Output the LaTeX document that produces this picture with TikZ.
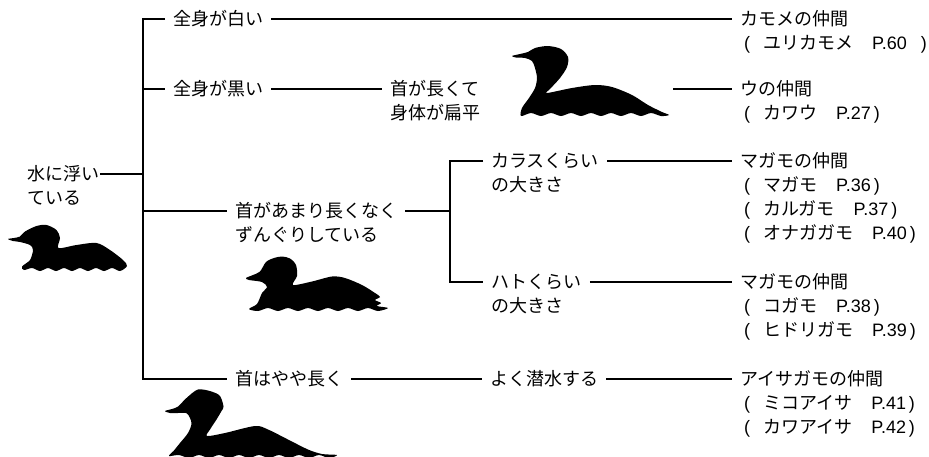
\documentclass[tikz,border=0pt]{standalone}
\usepackage{fontspec}
\setmainfont{Noto Sans CJK JP}
\newfontfamily\lat{Liberation Sans}
% "( name   P.nn )" reference line
\newcommand\bookref[3][3pt]{{\lat(}\hspace{13pt}#2\hspace{19pt}{\lat P.#3}\hspace{#1}{\lat)}}
\tikzset{
  lbl/.style={inner xsep=8pt, inner ysep=0pt, anchor=west, text height=13pt, text depth=0pt,
              font=\fontsize{18}{24}\selectfont},
  refline/.style={lbl, inner xsep=0pt},
  link/.style={line width=1.7pt},
  bird/.style={fill=black, draw=none}
}
\begin{document}
\begin{tikzpicture}[x=1pt,y=-1pt]
\useasboundingbox (0,0) rectangle (929,456);

% ---- root ----
\node[lbl, inner xsep=1pt] (root1) at (26,174) {水に浮い};
\node[lbl, inner xsep=1pt] (root2) at (26,198) {ている};
\coordinate (broot) at (143,174);
\coordinate (b2) at (143,89);
\coordinate (b3) at (143,211);
\coordinate (b4) at (143,379);

% ---- first level ----
\node[lbl] (white)   at (165,19)  {全身が白い};
\node[lbl] (black)   at (165,89)  {全身が黒い};
\node[lbl] (neck1)   at (382,89)  {首が長くて};
\node[lbl] (neck2)   at (382,113) {身体が扁平};
\node[lbl] (stubby1) at (227,211) {首があまり長くなく};
\node[lbl] (stubby2) at (227,235) {ずんぐりしている};
\node[lbl] (longish) at (227,379) {首はやや長く};
\node[lbl] (dive)    at (482,379) {よく潜水する};

% ---- second level ----
\coordinate (j3) at (450,211);
\coordinate (k2) at (450,282);
\node[lbl] (crow1)   at (483,161) {カラスくらい};
\node[lbl] (crow2)   at (483,185) {の大きさ};
\node[lbl] (pigeon1) at (483,282) {ハトくらい};
\node[lbl] (pigeon2) at (483,306) {の大きさ};

% ---- groups ----
\node[lbl] (gull)  at (732,19)  {カモメの仲間};
\node[refline] (gullr) at (744,43) {\bookref[14pt]{ユリカモメ}{60}};
\node[lbl] (corm)  at (732,89)  {ウの仲間};
\node[refline] (cormr) at (744,113) {\bookref{カワウ}{27}};
\node[lbl] (duckA) at (732,161) {マガモの仲間};
\node[refline] (duckA1) at (744,185) {\bookref{マガモ}{36}};
\node[refline] (duckA2) at (744,209) {\bookref{カルガモ}{37}};
\node[refline] (duckA3) at (744,233) {\bookref{オナガガモ}{40}};
\node[lbl] (duckB) at (732,282) {マガモの仲間};
\node[refline] (duckB1) at (744,306) {\bookref{コガモ}{38}};
\node[refline] (duckB2) at (744,330) {\bookref{ヒドリガモ}{39}};
\node[lbl] (merg)  at (732,379) {アイサガモの仲間};
\node[refline] (merg1) at (744,403) {\bookref{ミコアイサ}{41}};
\node[refline] (merg2) at (744,427) {\bookref{カワアイサ}{42}};

% ---- connectors ----
\draw[link] (root1.east) -- (broot);
\draw[link] (white.west) -| (b4) -- (longish.west);
\draw[link] (b2) -- (black.west);
\draw[link] (b3) -- (stubby1.west);
\draw[link] (white.east) -- (gull.west);
\draw[link] (black.east) -- (neck1.west);
\coordinate (ctail) at (673,89);
\draw[link] (ctail) -- (corm.west);
\draw[link] (stubby1.east) -- (j3);
\draw[link] (crow1.west) -| (k2) -- (pigeon1.west);
\draw[link] (crow1.east) -- (duckA.west);
\draw[link] (pigeon1.east) -- (duckB.west);
\draw[link] (longish.east) -- (dive.west);
\draw[link] (dive.east) -- (merg.west);

% ---- silhouettes ----
% small duck under the root label
\fill[bird] plot[smooth cycle, tension=0.5] coordinates {
  (8,239) (14,238) (20,236.5) (25,231.5) (36.5,226) (46.5,225) (56.5,230) (60,238) (58.5,248)
  (76.5,245) (96.5,243) (110,250) (123,260) (127,266)
  (120,271) (112,268) (104,271) (96,268) (88,271) (80,268) (72,271) (64,268)
  (56,271) (48,268) (40,271) (32,268) (24,270)
  (22,266.5) (30,260) (33,250) (30,245) (20,242) (13,241)};
% cormorant
\fill[bird] plot[smooth cycle, tension=0.5] coordinates {
  (512,56) (520,54) (528,52) (535,48) (548,46) (561,49) (568,57) (567,67) (560,78)
  (550,89) (547,93)
  (572,88) (595,85) (612,87) (632,95) (648,105) (662,112) (669,115)
  (661,116) (651,113) (641,116) (631,113) (621,116) (611,113) (601,116) (591,113)
  (581,116) (571,113) (561,116) (551,113) (541,116) (531,113) (521,116)
  (522,108) (529,98) (535,88) (537,78) (535,68) (532,61) (525,58) (516,57.5)};
% stout duck
\fill[bird] plot[smooth cycle, tension=0.5] coordinates {
  (246,278) (253,275) (260,271.5) (266,262) (274,258) (282,256.5) (290,258.5) (296,265)
  (297,276) (293,285)
  (312,281.5) (332,276.5) (345,278) (362,285) (375,293) (380,297) (375,300) (381,303)
  (377,306) (388,308)
  (378,311) (368,308) (358,311) (348,308) (338,311) (328,308) (318,311) (308,308)
  (298,311) (288,308) (278,311) (268,308) (258,311) (249,309)
  (257,304) (262,293) (267,287) (262,282) (249,280)};
% merganser
\fill[bird] plot[smooth cycle, tension=0.5] coordinates {
  (165,411) (172,409) (178,406.5) (186.5,398) (198,389.5) (211.5,391.5) (220,396)
  (223.5,406.5) (221.5,411) (216.5,419.5) (210,429.5) (207,436)
  (225,433) (255,426) (268,429.5) (288,439.5) (308,449.5) (322,454) (337,455)
  (329,458) (319,455) (309,458) (299,455) (289,458) (279,455) (269,458) (259,455)
  (249,458) (239,455) (229,458) (219,455) (209,458) (199,455) (189,458) (179,455)
  (169,456)
  (173.5,451) (180,443) (188,433) (191.5,423) (187,413.5) (178,413) (170,413)};
\end{tikzpicture}
\end{document}
